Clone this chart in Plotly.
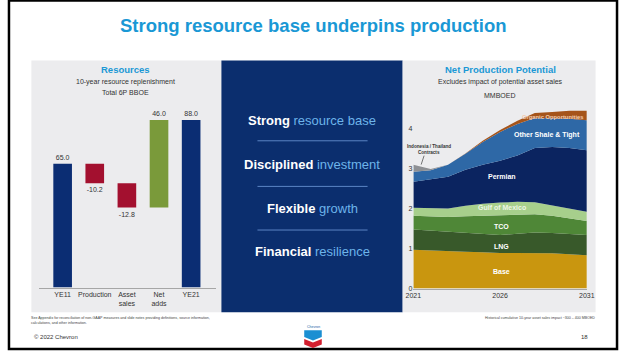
import plotly.graph_objects as go

W, H = 626, 353

# ---------------- data ----------------
res_categories = ["YE11", "Production", "Asset<br>sales", "Net<br>adds", "YE21"]
res_measures = ["absolute", "relative", "relative", "relative", "total"]
res_values = [65.0, -10.2, -12.8, 46.0, 0]

years = [2021, 2022, 2023, 2024, 2025, 2026, 2027, 2028, 2029, 2030, 2031]
base = [0.97, 0.95, 0.93, 0.92, 0.91, 0.89, 0.89, 0.89, 0.88, 0.86, 0.83]
lng = [0.51, 0.50, 0.49, 0.47, 0.45, 0.45, 0.48, 0.51, 0.51, 0.51, 0.51]
tco = [0.34, 0.35, 0.37, 0.42, 0.46, 0.49, 0.48, 0.46, 0.43, 0.39, 0.35]
gom = [0.20, 0.21, 0.21, 0.26, 0.30, 0.32, 0.32, 0.30, 0.26, 0.24, 0.23]
permian = [0.65, 0.72, 0.80, 0.90, 0.98, 1.05, 1.16, 1.36, 1.46, 1.52, 1.54]
shale = [0.25, 0.23, 0.30, 0.40, 0.57, 0.72, 0.79, 0.75, 0.72, 0.73, 0.75]
indonesia = [0.18, 0.03, 0, 0, 0, 0, 0, 0, 0, 0, 0]
organic = [0, 0, 0, 0.01, 0.03, 0.05, 0.08, 0.12, 0.16, 0.20, 0.24]

area_series = [
    ("Base", base, "#c9960f"),
    ("LNG", lng, "#38592a"),
    ("TCO", tco, "#4f8737"),
    ("Gulf of Mexico", gom, "#a7cf8c"),
    ("Permian", permian, "#0b2460"),
    ("Other Shale & Tight", shale, "#2e68a6"),
    ("Indonesia / Thailand Contracts", indonesia, "#8e9094"),
    ("Organic Opportunities", organic, "#a5541a"),
]

FONT = "Arial, Liberation Sans, sans-serif"
BLUE = "#1a98d5"
NAVY = "#0b2e6e"
PANEL = "#ececee"


def px(x):
    return x / W


def py(y):
    return 1 - y / H


fig = go.Figure()

# ---------------- waterfall ----------------
running = 0
labels = []
for m, v in zip(res_measures, res_values):
    if m == "absolute":
        running = v
    elif m == "relative":
        running += v
    labels.append(f"{(running if m != 'relative' else v):.1f}")

fig.add_trace(go.Waterfall(
    x=res_categories, y=res_values, measure=res_measures,
    text=labels, textposition="outside", cliponaxis=False,
    textfont=dict(size=7, color="#333333", family=FONT),
    increasing=dict(marker=dict(color="#7a9a3a")),
    decreasing=dict(marker=dict(color="#a3102f")),
    totals=dict(marker=dict(color="#0b2d73")),
    connector=dict(visible=False),
    width=0.58, xaxis="x", yaxis="y", showlegend=False,
))

# ---------------- stacked area ----------------
for name, vals, col in area_series:
    fig.add_trace(go.Scatter(
        x=years, y=vals, name=name, stackgroup="one", mode="lines",
        line=dict(width=0, color=col), fillcolor=col,
        xaxis="x2", yaxis="y2", showlegend=False,
    ))

shapes = []
# frame
shapes.append(dict(type="rect", xref="paper", yref="paper", x0=px(1), x1=px(625), y0=py(352), y1=py(0.5),
                   line=dict(color="black", width=2.5), fillcolor="rgba(0,0,0,0)", layer="above"))
# panels
shapes.append(dict(type="rect", xref="paper", yref="paper", x0=px(24), x1=px(219), y0=py(315), y1=py(61),
                   line=dict(width=0), fillcolor=PANEL, layer="below"))
shapes.append(dict(type="rect", xref="paper", yref="paper", x0=px(219), x1=px(405), y0=py(315), y1=py(61),
                   line=dict(width=0), fillcolor=NAVY, layer="below"))
shapes.append(dict(type="rect", xref="paper", yref="paper", x0=px(405), x1=px(603), y0=py(315), y1=py(61),
                   line=dict(width=0), fillcolor=PANEL, layer="below"))
# separators in middle panel
for yy in [142, 188, 232]:
    shapes.append(dict(type="line", xref="paper", yref="paper", x0=px(256), x1=px(369), y0=py(yy), y1=py(yy),
                       line=dict(color="#5b84c4", width=1)))
# indonesia pointer
shapes.append(dict(type="line", xref="paper", yref="paper", x0=px(427), x1=px(424), y0=py(157), y1=py(166),
                   line=dict(color="#555555", width=0.8)))


# chevron logo
def path(points):
    d = "M " + " L ".join(f"{px(a)},{py(b)}" for a, b in points) + " Z"
    return d


shapes.append(dict(type="path", xref="paper", yref="paper",
                   path=path([(304, 333), (322, 333), (322, 340), (313, 343.5), (304, 340)]),
                   fillcolor="#1b8fd2", line=dict(width=0)))
shapes.append(dict(type="path", xref="paper", yref="paper",
                   path=path([(304, 342), (313, 345.5), (322, 342), (322, 347.5), (313, 351), (304, 347.5)]),
                   fillcolor="#d21f2f", line=dict(width=0)))

ann = []


def txt(x, y, t, size, color="#333333", anchor="center", bold=False):
    if bold:
        t = f"<b>{t}</b>"
    ann.append(dict(x=px(x), y=py(y), xref="paper", yref="paper", text=t,
                    showarrow=False, xanchor=anchor, yanchor="middle",
                    font=dict(size=size, color=color, family=FONT)))


# title
txt(314, 26, "Strong resource base underpins production", 18.5, BLUE, bold=True)
# left panel titles
txt(121, 70, "Resources", 9.5, BLUE, bold=True)
txt(121, 83, "10-year resource replenishment", 7, "#333333")
txt(121, 93, "Total 6P BBOE", 7, "#333333")
# right panel titles
txt(505, 70, "Net Production Potential", 9.5, BLUE, bold=True)
txt(505, 83, "Excludes impact of potential asset sales", 7, "#333333")
txt(505, 96, "MMBOED", 7, "#333333")

# middle
LB = "#6db4ea"
mid = [
    (122, "Strong", "resource base"),
    (166, "Disciplined", "investment"),
    (210, "Flexible", "growth"),
    (254, "Financial", "resilience"),
]
for yy, a, b in mid:
    txt(312, yy, f"<b>{a}</b> <span style='color:{LB}'>{b}</span>", 13, "white")


# area labels (data coords)
def dtxt(x, y, t, size, color="white", anchor="center", bold=True):
    ann.append(dict(x=x, y=y, xref="x2", yref="y2", text=f"<b>{t}</b>" if bold else t, showarrow=False,
                    xanchor=anchor, yanchor="middle", font=dict(size=size, color=color, family=FONT)))


dtxt(2030.95, 4.3, "Organic Opportunities", 5.8, "#f3cdb0", anchor="right")
dtxt(2028.7, 3.85, "Other Shale & Tight", 7)
dtxt(2026.1, 2.8, "Permian", 7)
dtxt(2026.1, 2.03, "Gulf of Mexico", 7, "#eef6e6")
dtxt(2026.1, 1.56, "TCO", 7)
dtxt(2026.1, 1.05, "LNG", 7)
dtxt(2026.1, 0.42, "Base", 7)
txt(432, 148, "Indonesia / Thailand", 4.6, "#333333", bold=True)
txt(432, 154, "Contracts", 4.6, "#333333", bold=True)

# footnotes & footer
txt(22, 321, "See Appendix for reconciliation of non-GAAP measures and slide notes providing definitions, source information,",
    3.6, "#444444", anchor="left")
txt(22, 326, "calculations, and other information.", 3.6, "#444444", anchor="left")
txt(604, 321, "Historical cumulative 10-year asset sales impact ~300 – 400 MBOED", 3.6, "#444444", anchor="right")
txt(25, 340, "© 2022 Chevron", 6, "#333333", anchor="left")
txt(597, 340, "18", 6, "#333333", anchor="right")
txt(313, 330, "Chevron", 3.5, "#1b5fa8")

fig.update_layout(
    width=W, height=H, margin=dict(l=0, r=0, t=0, b=0),
    paper_bgcolor="white", plot_bgcolor="rgba(0,0,0,0)",
    font=dict(family=FONT, color="#333333"),
    shapes=shapes, annotations=ann, showlegend=False,
    xaxis=dict(domain=[px(32), px(213)], range=[-0.73, 4.76], showline=True, linecolor="#a6a6a6",
               linewidth=1, ticks="", showgrid=False, zeroline=False,
               tickfont=dict(size=7, color="#333333", family=FONT), fixedrange=True),
    yaxis=dict(domain=[py(290), py(98)], range=[0, 100], visible=False, showgrid=False, fixedrange=True),
    xaxis2=dict(domain=[px(416), px(594)], range=[2021, 2031], tickvals=[2021, 2026, 2031],
                showline=True, linecolor="#a6a6a6", linewidth=1, ticks="", showgrid=False, zeroline=False,
                tickfont=dict(size=7, color="#333333", family=FONT), anchor="y2", fixedrange=True),
    yaxis2=dict(domain=[py(291), py(291 - 4.5 * 40.3)], range=[0, 4.5], tickvals=[0, 1, 2, 3, 4],
                showline=False, ticks="", showgrid=False, zeroline=False,
                tickfont=dict(size=7, color="#333333", family=FONT), anchor="x2", fixedrange=True),
)

fig.write_html("out.html")
